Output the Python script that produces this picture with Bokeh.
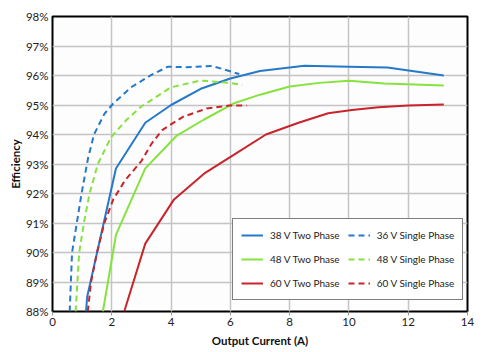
from bokeh.plotting import figure
from bokeh.models import Legend, LegendItem, FixedTicker, PrintfTickFormatter, Range1d
from bokeh.embed import file_html
from bokeh.resources import INLINE

# 38 V Two Phase
x38_two = [1.13, 1.17, 2.14, 3.13, 4.0, 5.0, 6.0, 7.0, 8.5, 10.0, 11.3, 13.2]
y38_two = [88.0, 88.5, 92.85, 94.4, 95.0, 95.55, 95.9, 96.15, 96.33, 96.3, 96.27, 96.0]
# 36 V Single Phase
x36_single = [0.58, 0.62, 0.66, 0.82, 0.98, 1.2, 1.4, 1.75, 2.05, 2.65, 3.3, 3.9, 4.5, 5.4, 6.3]
y36_single = [88.0, 89.0, 90.0, 91.0, 92.0, 93.2, 94.0, 94.7, 95.05, 95.6, 96.0, 96.3, 96.28, 96.32, 96.05]
# 48 V Two Phase
x48_two = [1.7, 2.04, 2.14, 3.13, 4.18, 5.1, 6.1, 7.0, 8.0, 9.0, 10.0, 11.2, 13.2]
y48_two = [88.0, 90.0, 90.6, 92.85, 93.95, 94.5, 95.05, 95.35, 95.63, 95.75, 95.82, 95.73, 95.66]
# 48 V Single Phase
x48_single = [0.78, 0.84, 0.9, 1.06, 1.25, 1.53, 1.97, 2.5, 3.0, 4.0, 5.0, 6.0, 6.4]
y48_single = [88.0, 89.0, 90.0, 91.0, 92.0, 93.0, 93.9, 94.5, 94.95, 95.6, 95.83, 95.75, 95.68]
# 60 V Two Phase
x60_two = [2.42, 3.13, 4.1, 5.15, 6.1, 7.2, 8.3, 9.3, 10.1, 11.0, 12.0, 13.2]
y60_two = [88.0, 90.3, 91.8, 92.7, 93.3, 94.0, 94.4, 94.72, 94.83, 94.92, 94.98, 95.02]
# 60 V Single Phase
x60_single = [1.19, 1.3, 1.5, 1.75, 2.05, 2.45, 3.0, 3.35, 3.7, 4.4, 5.2, 5.95, 6.55]
y60_single = [88.0, 89.0, 90.0, 91.0, 91.8, 92.45, 93.1, 93.7, 94.15, 94.6, 94.88, 94.98, 94.98]

x_ticks = [0, 2, 4, 6, 8, 10, 12, 14]
y_ticks = [88, 89, 90, 91, 92, 93, 94, 95, 96, 97, 98]

BLUE = "#2479c9"
GREEN = "#86e23f"
RED = "#c9232b"
FONT = "Lato"

p = figure(width=497, height=352, output_backend="svg", toolbar_location=None,
           x_range=Range1d(0, 14), y_range=Range1d(88, 98),
           min_border_left=52, min_border_right=30, min_border_top=16, min_border_bottom=41)
p.background_fill_color = "#fdfdfd"
p.border_fill_color = "white"
p.outline_line_color = "black"
p.outline_line_width = 2

p.xaxis.ticker = FixedTicker(ticks=x_ticks)
p.yaxis.ticker = FixedTicker(ticks=y_ticks)
p.yaxis.formatter = PrintfTickFormatter(format="%d%%")
for ax in (p.xaxis[0], p.yaxis[0]):
    ax.axis_line_color = None
    ax.major_tick_line_color = "#999999"
    ax.major_tick_in = 0
    ax.major_tick_out = 4
    ax.minor_tick_line_color = None
    ax.major_label_text_font = FONT
    ax.major_label_text_font_size = "11.5px"
    ax.major_label_text_color = "#222222"
    ax.axis_label_text_font = FONT
    ax.axis_label_text_font_size = "11.5px"
    ax.axis_label_text_font_style = "bold"
    ax.axis_label_text_color = "#111111"
p.yaxis.major_tick_line_color = None
p.yaxis.major_tick_out = 0
p.xaxis.major_label_standoff = 2
p.yaxis.major_label_standoff = 4
p.xaxis.axis_label = "Output Current (A)"
p.yaxis.axis_label = "Efficiency"
p.xaxis.axis_label_standoff = 5
p.yaxis.axis_label_standoff = 1

p.grid.grid_line_color = "#c4c4c4"
p.grid.grid_line_width = 1.5

lw = 2
dash = "6 4"
r38t = p.line(x38_two, y38_two, line_color=BLUE, line_width=lw)
r36s = p.line(x36_single, y36_single, line_color=BLUE, line_width=lw, line_dash=dash)
r48t = p.line(x48_two, y48_two, line_color=GREEN, line_width=lw)
r48s = p.line(x48_single, y48_single, line_color=GREEN, line_width=lw, line_dash=dash)
r60t = p.line(x60_two, y60_two, line_color=RED, line_width=lw)
r60s = p.line(x60_single, y60_single, line_color=RED, line_width=lw, line_dash=dash)

legend = Legend(items=[
    LegendItem(label="38 V Two Phase", renderers=[r38t]),
    LegendItem(label="48 V Two Phase", renderers=[r48t]),
    LegendItem(label="60 V Two Phase", renderers=[r60t]),
    LegendItem(label="36 V Single Phase", renderers=[r36s]),
    LegendItem(label="48 V Single Phase", renderers=[r48s]),
    LegendItem(label="60 V Single Phase", renderers=[r60s]),
], ncols=2, location=(180, 11))
legend.border_line_color = "black"
legend.border_line_width = 1.5
legend.background_fill_color = "white"
legend.background_fill_alpha = 1
legend.label_text_font = FONT
legend.label_text_font_size = "10px"
legend.label_text_color = "#222222"
legend.glyph_width = 22
legend.glyph_height = 16
legend.label_height = 16
legend.label_standoff = 7
legend.spacing = 8
legend.padding = 8
legend.margin = 0
p.add_layout(legend, "center")

open("out.html", "w").write(file_html(p, INLINE))
